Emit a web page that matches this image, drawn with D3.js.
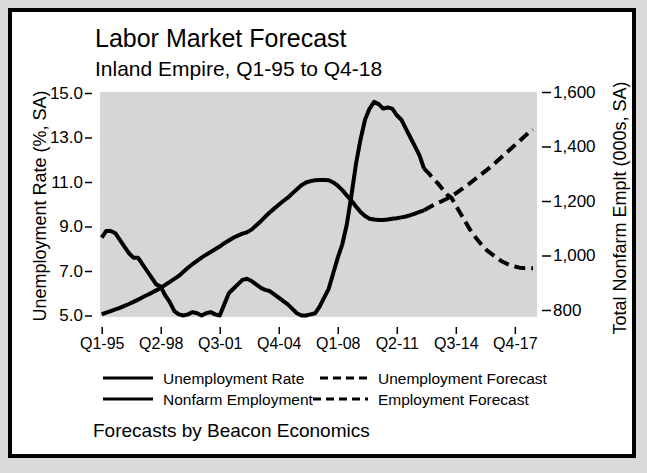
<!DOCTYPE html>
<html>
<head>
<meta charset="utf-8">
<script src="https://cdn.jsdelivr.net/npm/d3@7"></script>
<style>
  body { margin: 0; background: #d9d9d9; }
  text { font-family: "Liberation Sans", Arial, Helvetica, sans-serif; fill: #000; }
</style>
</head>
<body>
<div id="chart"></div>
<script>
// quarterly values, index 0 = Q1-95
const unempRate = [8.5, 8.8, 8.8, 8.7, 8.4, 8.1, 7.8, 7.6, 7.6, 7.3, 7.0, 6.7, 6.4, 6.3, 5.9, 5.6,
    5.2, 5.05, 5.0, 5.05, 5.15, 5.1, 5.0, 5.1, 5.15, 5.05, 5.0, 5.5, 6.0, 6.2, 6.4, 6.6,
    6.65, 6.55, 6.4, 6.25, 6.15, 6.1, 5.95, 5.8, 5.65, 5.5, 5.3, 5.1, 5.0, 5.0, 5.05, 5.1,
    5.4, 5.8, 6.2, 6.9, 7.6, 8.2, 9.1, 10.4, 11.8, 12.9, 13.8, 14.3, 14.6, 14.5, 14.3, 14.35,
    14.3, 14.0, 13.8, 13.4, 13.0, 12.6, 12.2, 11.6];
// forecast starts at the last actual quarter (index 71)
const unempForecast = [11.6, 11.4, 11.15, 10.95, 10.7, 10.45, 10.3, 9.95, 9.6, 9.25, 8.9, 8.6, 8.35,
    8.1, 7.9, 7.75, 7.6, 7.45, 7.35, 7.25, 7.2, 7.15, 7.13, 7.12, 7.12];
const nonfarmEmpl = [785, 790, 796, 802, 808, 815, 822, 830, 838, 847, 855, 863, 872, 881, 892, 903,
    914, 925, 940, 955, 968, 980, 992, 1003, 1013, 1023, 1033, 1045, 1055, 1065, 1073, 1080,
    1085, 1095, 1110, 1125, 1142, 1158, 1172, 1186, 1200, 1212, 1228, 1243, 1258, 1268, 1273, 1276,
    1277, 1277, 1276, 1268, 1256, 1240, 1220, 1202, 1180, 1160, 1145, 1135, 1132, 1130, 1130, 1132,
    1135, 1137, 1140, 1143, 1148, 1154, 1160, 1166];
const emplForecast = [1166, 1175, 1184, 1193, 1200, 1208, 1217, 1228, 1240, 1252, 1264, 1277, 1290,
    1303, 1316, 1330, 1345, 1360, 1375, 1390, 1405, 1420, 1435, 1450, 1462];

const xTickLabels = ["Q1-95", "Q2-98", "Q3-01", "Q4-04", "Q1-08", "Q2-11", "Q3-14", "Q4-17"];
const leftTicks = [5, 7, 9, 11, 13, 15];
const rightTicks = [800, 1000, 1200, 1400, 1600];

const width = 647, height = 473;
const forecastStart = unempRate.length - 1;

const svg = d3.select("#chart").append("svg")
    .attr("width", width)
    .attr("height", height);

// white panel with heavy border
svg.append("rect")
    .attr("x", 10).attr("y", 10)
    .attr("width", 624).attr("height", 446)
    .attr("fill", "#fff")
    .attr("stroke", "#000")
    .attr("stroke-width", 4);

// scales
const x = d3.scaleLinear().domain([0, 95]).range([101.7, 533]);
const yL = d3.scaleLinear().domain([5, 15]).range([315.5, 93]);
const yR = d3.scaleLinear().domain([800, 1600]).range([310, 92]);

// grey plot area
svg.append("rect")
    .attr("x", 100).attr("y", 92)
    .attr("width", 437).attr("height", 225)
    .attr("fill", "#d6d6d6");

// titles
svg.append("text").attr("x", 95).attr("y", 47)
    .style("font-size", "25px").text("Labor Market Forecast");
svg.append("text").attr("x", 95).attr("y", 76)
    .style("font-size", "21px").text("Inland Empire, Q1-95 to Q4-18");

// axes
const qIndex = s => (+s.slice(3) + (+s.slice(3) < 50 ? 2000 : 1900) - 1995) * 4 + (+s[1] - 1);

const xAxis = svg.append("g")
    .attr("transform", "translate(0,327)")
    .call(d3.axisBottom(x)
        .tickValues(xTickLabels.map(qIndex))
        .tickFormat((d, i) => xTickLabels[i])
        .tickSize(7).tickPadding(4));

const leftAxis = svg.append("g")
    .attr("transform", "translate(92,0)")
    .call(d3.axisLeft(yL).tickValues(leftTicks)
        .tickFormat(d3.format(".1f")).tickSize(7).tickPadding(2));

const rightAxis = svg.append("g")
    .attr("transform", "translate(542,0)")
    .call(d3.axisRight(yR).tickValues(rightTicks)
        .tickFormat(d3.format(",")).tickSize(9).tickPadding(2));

[xAxis, leftAxis, rightAxis].forEach(a => {
    a.select(".domain").remove();
    a.selectAll("line").attr("stroke", "#000").attr("stroke-width", 1.5);
    a.selectAll("text").attr("fill", "#000").style("font-size", "17px");
});
xAxis.selectAll("text").style("font-size", "16px");

svg.append("text")
    .attr("transform", "translate(46,206) rotate(-90)")
    .attr("text-anchor", "middle")
    .style("font-size", "18px")
    .text("Unemployment Rate (%, SA)");
svg.append("text")
    .attr("transform", "translate(626,208) rotate(-90)")
    .attr("text-anchor", "middle")
    .style("font-size", "18px")
    .text("Total Nonfarm Emplt (000s, SA)");

// lines
const lineL = d3.line().x(d => x(d.i)).y(d => yL(d.v));
const lineR = d3.line().x(d => x(d.i)).y(d => yR(d.v));
const toPts = (arr, start) => arr.map((v, k) => ({ i: start + k, v: v }));

const series = [
    { pts: toPts(unempRate, 0), line: lineL, dash: null },
    { pts: toPts(nonfarmEmpl, 0), line: lineR, dash: null },
    { pts: toPts(unempForecast, forecastStart), line: lineL, dash: "11,6" },
    { pts: toPts(emplForecast, forecastStart), line: lineR, dash: "11,6" }
];

svg.append("g").selectAll("path")
    .data(series)
    .enter().append("path")
    .attr("d", d => d.line(d.pts))
    .attr("fill", "none")
    .attr("stroke", "#000")
    .attr("stroke-width", 4)
    .attr("stroke-linejoin", "round")
    .attr("stroke-dasharray", d => d.dash);

// legend
const legendItems = [
    { label: "Unemployment Rate", x1: 103, x2: 153, tx: 163, y: 378, dash: null },
    { label: "Unemployment Forecast", x1: 320, x2: 368, tx: 378, y: 378, dash: "8,5" },
    { label: "Nonfarm Employment", x1: 103, x2: 153, tx: 163, y: 399, dash: null },
    { label: "Employment Forecast", x1: 313, x2: 368, tx: 378, y: 399, dash: "8,5" }
];

const legendG = svg.append("g").selectAll("g")
    .data(legendItems)
    .enter().append("g");

legendG.append("line")
    .attr("x1", d => d.x1).attr("x2", d => d.x2)
    .attr("y1", d => d.y).attr("y2", d => d.y)
    .attr("stroke", "#000")
    .attr("stroke-width", 3)
    .attr("stroke-dasharray", d => d.dash);

legendG.append("text")
    .attr("x", d => d.tx).attr("y", d => d.y + 5.5)
    .style("font-size", "15.5px")
    .text(d => d.label);

svg.append("text").attr("x", 93).attr("y", 437)
    .style("font-size", "19px").text("Forecasts by Beacon Economics");
</script>
</body>
</html>
